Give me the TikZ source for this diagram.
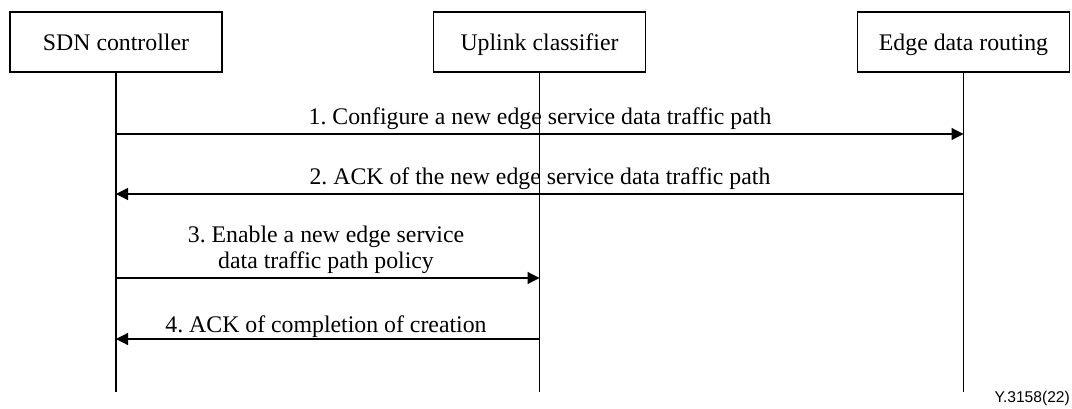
\documentclass[tikz,border=0pt]{standalone}
\usepackage{fontspec}
\setmainfont{Liberation Serif}
\newfontfamily\labelsans{Liberation Sans}
\usetikzlibrary{arrows.meta}
\frenchspacing
\begin{document}
\frenchspacing
\begin{tikzpicture}[x=1pt,y=-1pt,
  entity/.style={draw, line width=1.2pt, minimum width=212pt, minimum height=60pt, inner sep=0pt,
    text height=18pt, text depth=0pt,
    font=\fontsize{23.8}{28}\selectfont},
  lifeline/.style={line width=1.2pt},
  msg/.style={line width=1.2pt, -{Triangle[length=12pt,width=12pt]}},
  msglabel/.style={anchor=base, inner sep=0pt, font=\fontsize{23.8}{26}\selectfont, align=center}]
\useasboundingbox (0,0) rectangle (1072,409);
% entities
\node[entity] (sdn) at (116,42) {SDN controller};
\node[entity] (ulc) at (539.5,42) {Uplink classifier};
\node[entity] (edr) at (963.5,42) {Edge data routing};
% lifeline ends
\coordinate (sdnEnd) at (116,392);
\coordinate (ulcEnd) at (539.5,392);
\coordinate (edrEnd) at (963.5,392);
\draw[lifeline] (sdn.south) -- (sdnEnd);
\draw[lifeline] (ulc.south) -- (ulcEnd);
\draw[lifeline] (edr.south) -- (edrEnd);
% message points
\coordinate (m1s) at (116,134);   \coordinate (m1e) at (963.5,134);
\coordinate (m2s) at (963.5,194); \coordinate (m2e) at (116,194);
\coordinate (m3s) at (116,278);   \coordinate (m3e) at (539.5,278);
\coordinate (m4s) at (539.5,339); \coordinate (m4e) at (116,339);
\draw[msg] (m1s) -- (m1e);
\draw[msg] (m2s) -- (m2e);
\draw[msg] (m3s) -- (m3e);
\draw[msg] (m4s) -- (m4e);
% labels
\node[msglabel] (l1) at (540,125) {1. Configure a new edge service data traffic path};
\node[msglabel] (l2) at (540,185) {2. ACK of the new edge service data traffic path};
\node[msglabel] (l3) at (326,269) {3. Enable a new edge service\\data traffic path policy};
\node[msglabel] (l4) at (326,332) {4. ACK of completion of creation};
\node[anchor=base east, inner sep=0pt, font=\labelsans\fontsize{15.6}{18}\selectfont] (fig) at (1070,402) {Y.3158(22)};
\end{tikzpicture}
\end{document}
